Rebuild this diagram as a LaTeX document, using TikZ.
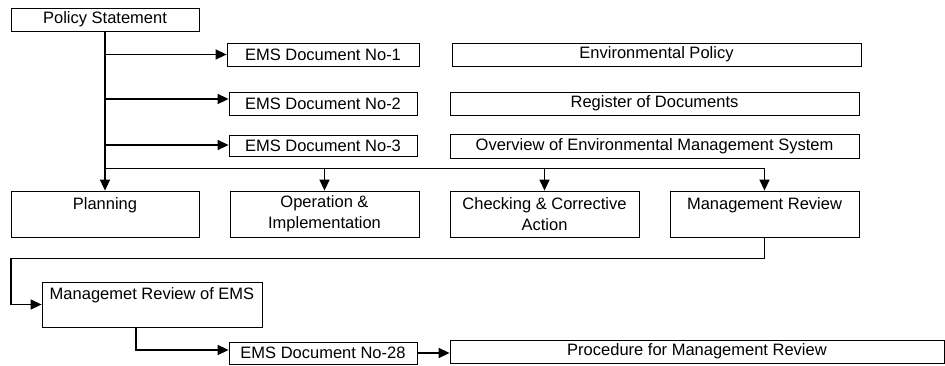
\documentclass[tikz,border=0pt]{standalone}
\usepackage{fontspec}
\setmainfont{Liberation Sans}
\usetikzlibrary{arrows.meta}

\begin{document}
\begin{tikzpicture}[
  x=1pt, y=-1pt,
  box/.style={rectangle, draw, line width=0.8pt, inner sep=0pt, align=center, font=\fontsize{16.5}{21}\selectfont, minimum height=23pt},
  bigbox/.style={box, minimum height=46pt},
  arrow/.style={-{Triangle[length=11pt,width=10pt]}, line width=1.5pt},
  bus/.style={line width=0.9pt},
]
\useasboundingbox (0,0) rectangle (945,366);

\node[box, minimum width=188pt] (ps) at (105, 19.5) {Policy Statement};

% Column 1
\node[box, minimum width=192pt] (d1) at (323, 54.5) {EMS Document No-1};
\node[box, minimum width=188pt] (d2) at (323, 103.5) {EMS Document No-2};
\node[box, minimum width=188pt, minimum height=21pt] (d3) at (323, 146) {EMS Document No-3};

% Column 2
\node[box, minimum width=409pt] (ep) at (656.5, 54.5) {Environmental Policy};
\node[box, minimum width=409pt] (reg) at (654.5, 103.5) {Register of Documents};
\node[box, minimum width=409pt, minimum height=24pt] (ov) at (654.5, 146) {Overview of Environmental Management System};

% Main elements
\node[bigbox, minimum width=188pt] (plan) at (105, 214) {Planning\\\mbox{}};
\node[bigbox, minimum width=189pt] (op) at (324.5, 214) {Operation \&\\Implementation};
\node[bigbox, minimum width=189pt] (chk) at (544.5, 214) {Checking \& Corrective\\Action};
\node[bigbox, minimum width=189pt] (mr) at (764.5, 214) {Management Review\\\mbox{}};

% Review
\node[bigbox, minimum width=220pt, minimum height=45pt] (mre) at (152, 304.5) {Managemet Review of EMS\\\mbox{}};
\node[box, minimum width=188pt, minimum height=22pt] (d28) at (323, 353) {EMS Document No-28};
\node[box, minimum width=494pt] (proc) at (697, 351.5) {Procedure for Management Review};

\coordinate (bus1) at (105, 168);
\coordinate (turn) at (11, 258);

% Flow arrows
\draw[arrow] (ps.south) -- (plan.north);
\draw[arrow] (d1.west -| ps.south) -- (d1.west);
\draw[arrow] ([yshift=4.5pt]d2.west -| ps.south) -- ([yshift=4.5pt]d2.west);
\draw[arrow] ([yshift=1pt]d3.west -| ps.south) -- ([yshift=1pt]d3.west);
\draw[bus] (bus1) -- (bus1 -| mr.north);
\draw[arrow] (bus1 -| op.north) -- (op.north);
\draw[arrow] (bus1 -| chk.north) -- (chk.north);
\draw[arrow] (bus1 -| mr.north) -- (mr.north);
\draw[bus] (mr.south) |- (turn);
\draw[arrow] (turn) |- (mre.west);
\draw[arrow] ([xshift=-16pt]mre.south) |- ([yshift=3pt]d28.west);
\draw[arrow] (d28.east) -- (proc.west |- d28.east);

\end{tikzpicture}
\end{document}
